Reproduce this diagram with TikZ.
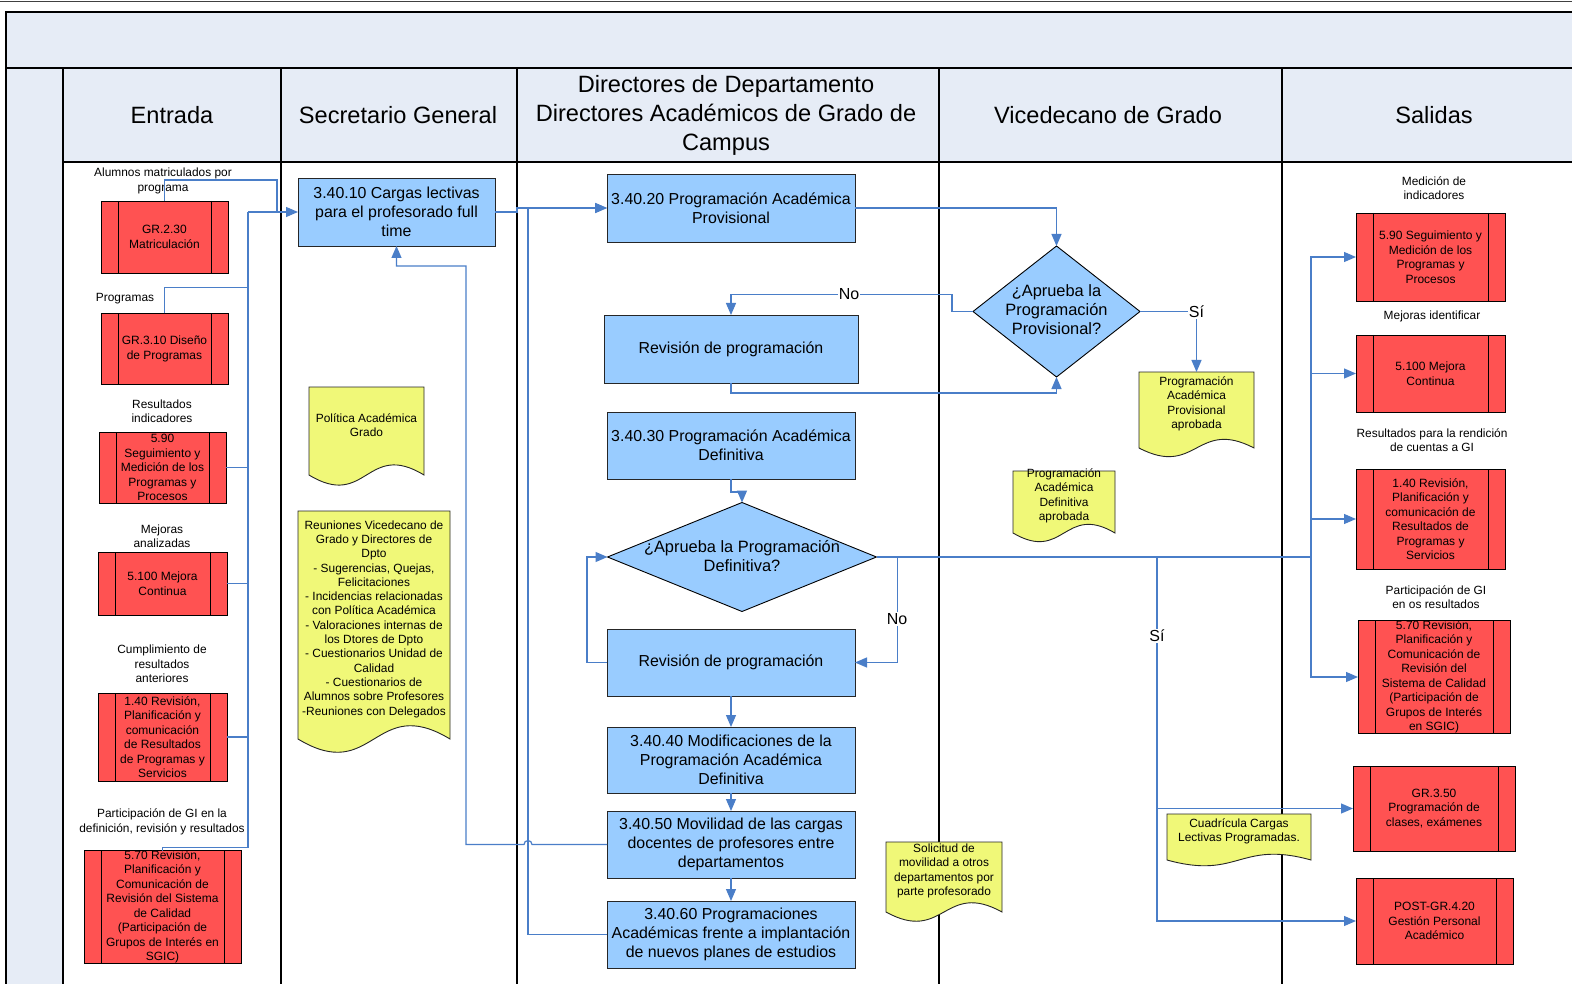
\documentclass[tikz,border=0pt]{standalone}
\usepackage{fontspec}
\setmainfont{Liberation Sans}
\usetikzlibrary{shapes.geometric,arrows.meta,calc}
\definecolor{hdr}{RGB}{230,236,246}
\definecolor{redf}{RGB}{255,82,82}
\definecolor{bluef}{RGB}{153,204,255}
\definecolor{yelf}{RGB}{240,248,120}
\definecolor{cblue}{RGB}{74,126,200}
\newcommand\fsub{\fontsize{12}{14.5}\selectfont}
\newcommand\fproc{\fontsize{15.9}{19}\selectfont}
\newcommand\flbl{\fontsize{11.9}{14.5}\selectfont}
\newcommand\fdoc{\fontsize{11.9}{14.3}\selectfont}
\newcommand\fhd{\fontsize{23.6}{29}\selectfont}
\newcommand\fdia{\fontsize{16.4}{19}\selectfont}
\newcommand\fyn{\fontsize{16}{19}\selectfont}
% name, x, y, w, h, wave, text
\newcommand\docnode[7]{%
  \node[docbox, minimum width=#4, minimum height=#5] (#1) at (#2,#3) {};
  \draw[docline] (#1.north west) -- (#1.north east) -- (#1.south east)
     .. controls ($(#1.south)+(0,-#6)$) and ($(#1.south)+(0,#6)$) .. (#1.south west) -- cycle;
  \node[doctxt] (#1t) at ($(#1)+(0,-6)$) {#7};
}
\tikzset{
  lane/.style={draw=black, line width=1.3pt},
  conn/.style={draw=cblue, line width=1.2pt},
  arr/.style={conn, -{Triangle[length=12pt,width=10pt]}},
  sub/.style={draw=black, fill=redf, line width=0.9pt, inner sep=0pt, outer sep=0pt,
    align=center, font=\fsub,
    path picture={\draw[line width=0.9pt]
      ([xshift=17pt]path picture bounding box.north west) -- ([xshift=17pt]path picture bounding box.south west)
      ([xshift=-17pt]path picture bounding box.north east) -- ([xshift=-17pt]path picture bounding box.south east);}},
  proc/.style={draw=black!85, fill=bluef, line width=0.9pt, inner sep=0pt, outer sep=0pt,
    align=center, font=\fproc},
  dia/.style={diamond, draw=black, fill=bluef, line width=0.9pt, inner sep=0pt, outer sep=0pt},
  dtext/.style={align=center, font=\fdia, inner sep=0pt},
  lbl/.style={align=center, font=\flbl, inner sep=0pt},
  docbox/.style={draw=none, inner sep=0pt, outer sep=0pt},
  docline/.style={draw=black!85, fill=yelf, line width=0.9pt},
  doctxt/.style={align=center, font=\fdoc, inner sep=0pt},
  hd/.style={align=center, font=\fhd, inner sep=0pt},
  yn/.style={font=\fyn, fill=white, inner sep=1pt},
}
\begin{document}
\begin{tikzpicture}[x=1pt,y=-1pt]
\useasboundingbox (0,0) rectangle (1572,984);
% background and lanes
\fill[white] (0,0) rectangle (1572,984);
\fill[hdr] (6,12) rectangle (1580,990);
\fill[white] (63,162) rectangle (1580,990);
\draw[line width=1.6pt, black!75] (0,1.5) -- (1572,1.5);
\draw[lane] (1580,12) -- (6,12) -- (6,990);
\draw[lane] (6,68) -- (1580,68);
\draw[lane] (63,162) -- (1580,162);
\foreach \x in {63,281,517,939,1282} \draw[lane] (\x,68) -- (\x,990);

% headers
\node[hd] (hEnt) at (172,115) {Entrada};
\node[hd] (hSec) at (398,115) {Secretario General};
\node[hd] (hDir) at (726,115) {Directores de Departamento\\Directores Académicos de Grado de\\Campus};
\node[hd] (hVic) at (1108,115) {Vicedecano de Grado};
\node[hd] (hSal) at (1434,115) {Salidas};

% Entrada
\node[lbl] (l1) at (163,181) {Alumnos matriculados por\\programa};
\node[sub, minimum width=127, minimum height=72] (gr230) at (164.5,237) {GR.2.30\\Matriculación};
\node[lbl] (l2) at (125,299) {Programas};
\node[sub, minimum width=127, minimum height=71] (gr310) at (164.5,349) {GR.3.10 Diseño\\de Programas};
\node[lbl] (l3) at (162,411) {Resultados\\indicadores};
\node[sub, minimum width=127, minimum height=71] (e590) at (162.5,467.5) {5.90\\Seguimiento y\\Medición de los\\Programas y\\Procesos};
\node[lbl] (l4) at (162,536) {Mejoras\\analizadas};
\node[sub, minimum width=129, minimum height=63] (e5100) at (162.5,583.5) {5.100 Mejora\\Continua};
\node[lbl] (l5) at (162,664) {Cumplimiento de\\resultados\\anteriores};
\node[sub, minimum width=129, minimum height=88] (e140) at (162.5,737) {1.40 Revisión,\\Planificación y\\comunicación\\de Resultados\\de Programas y\\Servicios};
\node[lbl] (l6) at (162,822) {Participación de GI en la\\definición, revisión y resultados};
\node[sub, minimum width=157, minimum height=112] (e570) at (162.5,907) {5.70 Revisión,\\Planificación y\\Comunicación de\\Revisión del Sistema\\de Calidad\\(Participación de\\Grupos de Interés en\\SGIC)};

% Secretario General
\node[proc, minimum width=197, minimum height=68] (p1) at (396.5,212) {3.40.10 Cargas lectivas\\para el profesorado full\\time};
\docnode{pol}{366.5}{431}{115}{88}{35}{Política Académica\\Grado}
\docnode{reu}{374}{625}{152}{228}{46}{Reuniones Vicedecano de\\Grado y Directores de\\Dpto\\- Sugerencias, Quejas,\\Felicitaciones\\- Incidencias relacionadas\\con Política Académica\\- Valoraciones internas de\\los Dtores de Dpto\\- Cuestionarios Unidad de\\Calidad\\- Cuestionarios de\\Alumnos sobre Profesores\\-Reuniones con Delegados}

% Directores
\node[proc, minimum width=248, minimum height=68] (p2) at (731,208) {3.40.20 Programación Académica\\Provisional};
\node[proc, minimum width=254, minimum height=68] (rev1) at (731,349) {Revisión de programación};
\node[proc, minimum width=248, minimum height=67] (p3) at (731,445.5) {3.40.30 Programación Académica\\Definitiva};
\node[dia, minimum width=269, minimum height=109] (d2) at (742,557) {};
\node[dtext] (d2t) at (742,556) {¿Aprueba la Programación\\Definitiva?};
\node[proc, minimum width=248, minimum height=67] (rev2) at (731,662.5) {Revisión de programación};
\node[proc, minimum width=248, minimum height=66] (p4) at (731,760) {3.40.40 Modificaciones de la\\Programación Académica\\Definitiva};
\node[proc, minimum width=248, minimum height=67] (p5) at (731,844.5) {3.40.50 Movilidad de las cargas\\docentes de profesores entre\\departamentos};
\node[proc, minimum width=248, minimum height=67] (p6) at (731,934.5) {3.40.60 Programaciones\\Académicas frente a implantación\\de nuevos planes de estudios};

% Vicedecano
\node[dia, minimum width=167, minimum height=131] (d1) at (1056.5,311.5) {};
\node[dtext] (d1t) at (1056.5,310) {¿Aprueba la\\Programación\\Provisional?};
\docnode{dprov}{1196.5}{410}{115}{76}{30}{Programación\\Académica\\Provisional\\aprobada}
\docnode{ddef}{1064}{502}{102}{62}{30}{Programación\\Académica\\Definitiva\\aprobada}
\docnode{dsol}{944}{877}{116}{70}{32}{Solicitud de\\movilidad a otros\\departamentos por\\parte profesorado}
\docnode{dcua}{1239}{837}{144}{46}{20}{Cuadrícula Cargas\\Lectivas Programadas.}

% Salidas
\node[lbl] (l7) at (1434,188) {Medición de\\indicadores};
\node[sub, minimum width=149, minimum height=88] (s590) at (1430.5,257) {5.90 Seguimiento y\\Medición de los\\Programas y\\Procesos};
\node[lbl] (l8) at (1432,316) {Mejoras identificar};
\node[sub, minimum width=149, minimum height=77] (s5100) at (1430.5,373.5) {5.100 Mejora\\Continua};
\node[lbl] (l9) at (1432,440) {Resultados para la rendición\\de cuentas a GI};
\node[sub, minimum width=149, minimum height=100] (s140) at (1430.5,519) {1.40 Revisión,\\Planificación y\\comunicación de\\Resultados de\\Programas y\\Servicios};
\node[lbl] (l10) at (1436,597) {Participación de GI\\en os resultados};
\node[sub, minimum width=152, minimum height=112] (s570) at (1434,677) {5.70 Revisión,\\Planificación y\\Comunicación de\\Revisión del\\Sistema de Calidad\\(Participación de\\Grupos de Interés\\en SGIC)};
\node[sub, minimum width=162, minimum height=85] (gr350) at (1434,808.5) {GR.3.50\\Programación de\\clases, exámenes};
\node[sub, minimum width=157, minimum height=86] (post) at (1434.5,921) {POST-GR.4.20\\Gestión Personal\\Académico};

% connectors: Entrada bus
\coordinate (busE) at (248,212);
\draw[conn] (gr230.north) -- ++(0,-21) -| ($(p1.west)+(-21,0)$);
\draw[conn] (gr310.north) -- ++(0,-26) -| (busE);
\draw[conn] (e590.east) -| (busE);
\draw[conn] (e5100.east) -| (busE);
\draw[conn] (e140.east) -| (busE);
\draw[conn] (e570.north) -- ++(0,-3) -| (busE);
\draw[arr] (busE) -- (p1.west);

% main flow
\draw[arr] (p1.east) -- ++(22,0) |- (p2.west);
\draw[arr] (p6.west) -- ++(-79,0) |- (p2.west);
\draw[arr] (p5.west) -- ++(-75,0) arc[start angle=0,end angle=-180,radius=4] -- ++(-58,0) -- ++(0,-578.5) -| (p1.south);
\draw[arr] (p2.east) -| (d1.north);
\draw[arr] (d1.west) -- ++(-21,0) -- ++(0,-17) -| (rev1.north);
\draw[arr] (rev1.south) -- ++(0,10) -| (d1.south);
\draw[arr] (d1.east) -| (dprov.north);
\draw[arr] (p3.south) -- ++(0,13) -| (d2.north);
\draw[arr] (rev2.west) -- ++(-20,0) |- (d2.west);
\draw[arr] (d2.east) -- ++(21,0) |- (rev2.east);
\draw[arr] (rev2.south) -- (p4.north);
\draw[arr] (p4.south) -- (p5.north);
\draw[arr] (p5.south) -- (p6.north);

% outputs
\coordinate (sbus) at (1311,557);
\coordinate (sib) at (1157,557);
\draw[conn] (d2.east) -- (sbus);
\draw[arr] (sbus) |- (s590.west);
\draw[arr] (sbus) |- (s5100.west);
\draw[arr] (sbus) |- (s140.west);
\draw[arr] (sbus) |- (s570.west);
\draw[arr] (sib) |- (gr350.west);
\draw[arr] (sib) |- (post.west);

% labels on connectors
\node[yn] (no1) at (849,294) {No};
\node[yn] (si1) at (1196.5,312) {Sí};
\node[yn] (no2) at (897,619) {No};
\node[yn] (si2) at (1157,636) {Sí};
\end{tikzpicture}
\end{document}
